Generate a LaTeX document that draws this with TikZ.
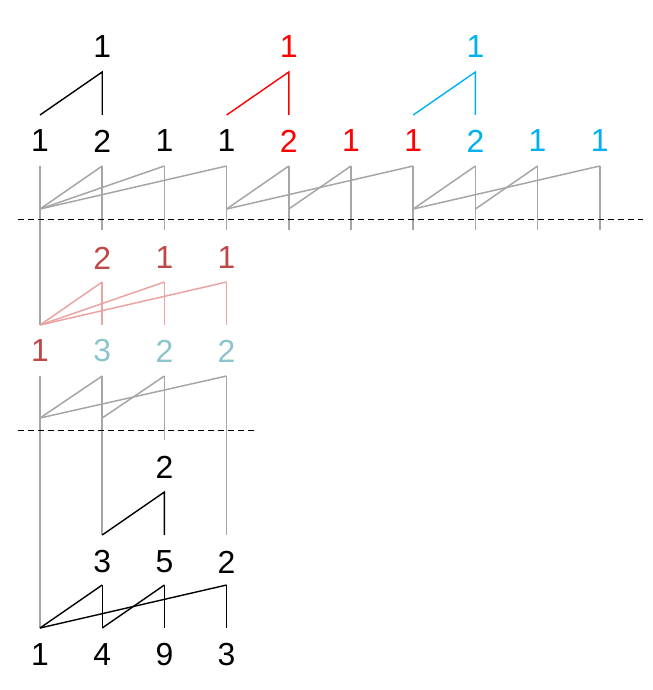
\documentclass[tikz,border=0pt]{standalone}
\usepackage{fontspec}
\setmainfont{Liberation Sans}
\usetikzlibrary{positioning}
\definecolor{hlred}{RGB}{255,0,0}
\definecolor{hlblue}{RGB}{0,176,240}
\definecolor{pathred}{RGB}{190,72,70}
\definecolor{pathpink}{RGB}{234,164,162}
\definecolor{pathteal}{RGB}{140,196,206}
\definecolor{linkgray}{RGB}{166,166,166}

\begin{document}
\begin{tikzpicture}[x=1bp, y=-1bp,
	num/.style={inner sep=0pt, font=\fontsize{32}{32}\selectfont},
	link/.style={line width=1.5bp, linkgray},
	tree/.style={line width=1.4bp},
	cut/.style={line width=0.9bp, dash pattern=on 6bp off 4bp},
	node distance=62.2bp, on grid]

	\useasboundingbox (0,0) rectangle (653,690);

	% Define nodes
	\node[num]                       (a1)  at (40,141) {1};
	\node[num, right=of a1]          (a2)  {2};
	\node[num, right=of a2]          (a3)  {1};
	\node[num, right=of a3]          (a4)  {1};
	\node[num, hlred, right=of a4]   (a5)  {2};
	\node[num, hlred, right=of a5]   (a6)  {1};
	\node[num, hlred, right=of a6]   (a7)  {1};
	\node[num, hlblue, right=of a7]  (a8)  {2};
	\node[num, hlblue, right=of a8]  (a9)  {1};
	\node[num, hlblue, right=of a9]  (a10) {1};

	\node[num, above=94bp of a2]         (ta) {1};
	\node[num, hlred, above=94bp of a5]  (tb) {1};
	\node[num, hlblue, above=94bp of a8] (tc) {1};

	\node[num, pathred, below=117bp of a2] (b2) {2};
	\node[num, pathred, below=117bp of a3] (b3) {1};
	\node[num, pathred, below=117bp of a4] (b4) {1};

	\node[num, pathred, below=210bp of a1] (c1) {1};
	\node[num, pathteal, right=of c1]      (c2) {3};
	\node[num, pathteal, right=of c2]      (c3) {2};
	\node[num, pathteal, right=of c3]      (c4) {2};

	\node[num, below=116bp of c3] (d3) {2};

	\node[num, below=211bp of c2] (e2) {3};
	\node[num, right=of e2]       (e3) {5};
	\node[num, right=of e3]       (e4) {2};

	\node[num, below=304bp of c1] (f1) {1};
	\node[num, right=of f1]       (f2) {4};
	\node[num, right=of f2]       (f3) {9};
	\node[num, right=of f3]       (f4) {3};

	\coordinate (cut1l) at (18,219);
	\coordinate (cut1r) at (643,219);
	\coordinate (cut2l) at (18,430);
	\coordinate (cut2r) at (256,430);

	% Connect the nodes
	\draw[tree]         ([yshift=26bp]a1.center) -- ([yshift=-25bp]ta.center) -- ([yshift=26bp]a2.center);
	\draw[tree, hlred]  ([yshift=26bp]a4.center) -- ([yshift=-25bp]tb.center) -- ([yshift=26bp]a5.center);
	\draw[tree, hlblue] ([yshift=26bp]a7.center) -- ([yshift=-25bp]tc.center) -- ([yshift=26bp]a8.center);

	\draw[link] ([yshift=-25bp]a1.center) -- ([yshift=26bp]c1.center);
	\foreach \c in {a2,a3,a4,a5,a6,a7,a8,a9,a10}
		\draw[link] ([yshift=-25bp]\c.center) -- ([yshift=-89bp]\c.center);
	\foreach \f/\t in {a1/a2, a1/a3, a1/a4, a4/a5, a4/a7, a5/a6, a7/a8, a7/a10, a8/a9}
		\draw[link] ([yshift=-68bp]\f.center) -- ([yshift=-25bp]\t.center);

	\foreach \c in {b2,b3,b4} {
		\draw[link, pathpink] ([yshift=-24bp]\c.center) -- ([yshift=-67bp]\c.center);
		\draw[link, pathpink] ([yshift=26bp]c1.center) -- ([yshift=-24bp]\c.center);
	}

	\draw[link] ([yshift=-25bp]c1.center) -- ([yshift=27bp]f1.center);
	\draw[link] ([yshift=-25bp]c2.center) -- ([yshift=27bp]e2.center);
	\draw[link] ([yshift=-25bp]c3.center) -- ([yshift=-89bp]c3.center);
	\draw[link] ([yshift=-25bp]c4.center) -- ([yshift=27bp]e4.center);
	\foreach \f/\t in {c1/c2, c1/c4, c2/c3}
		\draw[link] ([yshift=-67bp]\f.center) -- ([yshift=-25bp]\t.center);

	\draw[tree] ([yshift=27bp]e2.center) -- ([yshift=-25bp]d3.center) -- ([yshift=27bp]e3.center);

	\foreach \c/\t in {e2/f2, e3/f3, e4/f4}
		\draw[tree] ([yshift=-23bp]\c.center) -- ([yshift=27bp]\t.center);
	\foreach \f/\t in {f1/e2, f1/e4, f2/e3}
		\draw[tree] ([yshift=27bp]\f.center) -- ([yshift=-23bp]\t.center);

	% Cuts
	\draw[cut] (cut1l) -- (cut1r);
	\draw[cut] (cut2l) -- (cut2r);

\end{tikzpicture}
\end{document}
